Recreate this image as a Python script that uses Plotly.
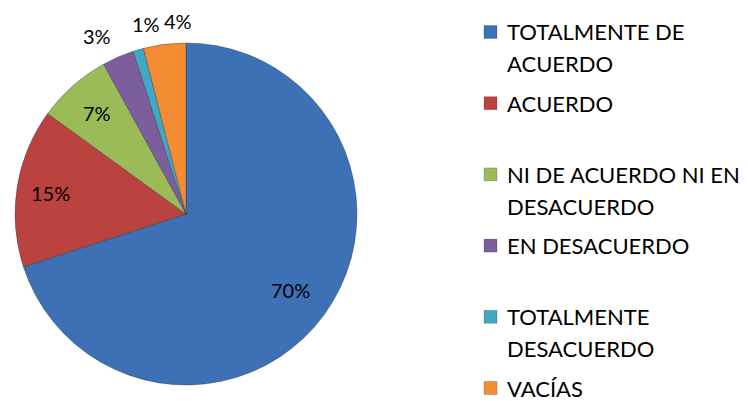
import math
import plotly.graph_objects as go

categories = ["TOTALMENTE DE ACUERDO", "ACUERDO", "NI DE ACUERDO NI EN DESACUERDO",
              "EN DESACUERDO", "TOTALMENTE DESACUERDO", "VACÍAS"]
legend_lines = [["TOTALMENTE DE", "ACUERDO"], ["ACUERDO"], ["NI DE ACUERDO NI EN", "DESACUERDO"],
                ["EN DESACUERDO"], ["TOTALMENTE", "DESACUERDO"], ["VACÍAS"]]
values = [70, 15, 7, 3, 1, 4]
colors = ["#3D70B4", "#BA433F", "#9BBB59", "#7C5E9F", "#3FA9C5", "#F48C33"]

# label placement style: radius factor (relative to pie radius) and pixel nudges
label_rfac = [0.755, 0.80, 0.79, 1.146, 1.146, 1.146]
nudges = [(0, 0), (0, 0), (0, 0), (-11, 2), (15, -2), (17, 1.5)]

OFF = 8                      # page body margin
PW, PH = 748, 401            # page size
W, H = PW - OFF, PH - OFF    # figure size
FONT = "Lato"
CX, CY, R = 186, 214, 171    # pie centre / radius in page pixels


def px(x):
    return (x - OFF) / W


def py(y):
    return 1 - (y - OFF) / H


fig = go.Figure(go.Pie(
    labels=categories, values=values, sort=False, direction="clockwise", rotation=0,
    marker=dict(colors=colors, line=dict(color="rgba(40,40,40,0.35)", width=1)),
    textinfo="none", hoverinfo="label+percent",
    showlegend=False,
    domain=dict(x=[px(CX - R), px(CX + R)], y=[py(CY + R), py(CY - R)]),
))

annotations = []
shapes = []
total = sum(values)
cum = 0
for v, rf, (dx, dy) in zip(values, label_rfac, nudges):
    mid = (cum + v / 2) / total * 2 * math.pi
    cum += v
    rr = R * rf
    lx = CX + rr * math.sin(mid) + dx
    ly = CY - rr * math.cos(mid) + dy
    annotations.append(dict(x=px(lx), y=py(ly), xref="paper", yref="paper",
                            text=f"{v / total:.0%}", showarrow=False,
                            xanchor="center", yanchor="middle",
                            font=dict(family=FONT, size=20, color="black")))

for i, (lines, col) in enumerate(zip(legend_lines, colors)):
    y0 = 32 + 71.2 * i
    for j, line in enumerate(lines):
        yy = y0 + 32 * j
        annotations.append(dict(x=px(505), y=py(yy), xref="paper", yref="paper",
                                text=line, showarrow=False, xanchor="left", yanchor="middle",
                                font=dict(family=FONT, size=22, color="black")))
    shapes.append(dict(type="rect", xref="paper", yref="paper",
                       x0=px(484), x1=px(497), y0=py(y0 + 6.5), y1=py(y0 - 6.5),
                       fillcolor=col, line=dict(color="rgba(0,0,0,0.35)", width=0.5)))

fig.update_layout(width=W, height=H, margin=dict(l=0, r=0, t=0, b=0, autoexpand=False),
                  paper_bgcolor="white", plot_bgcolor="white",
                  annotations=annotations, shapes=shapes, showlegend=False,
                  font=dict(family=FONT))
fig.write_html("out.html")
